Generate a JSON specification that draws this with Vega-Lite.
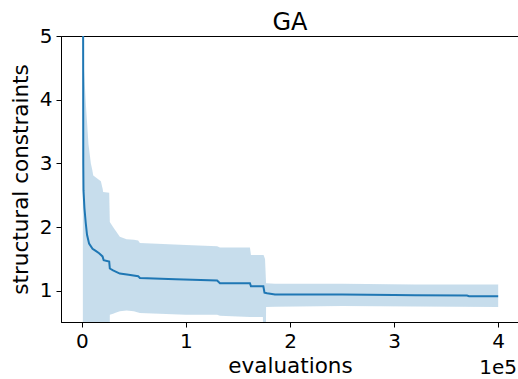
{
  "$schema": "https://vega.github.io/schema/vega-lite/v6.json",
  "width": 458,
  "height": 286,
  "autosize": {"type": "none"},
  "padding": {"left": 61, "top": 36, "right": 0, "bottom": 57},
  "background": "white",
  "config": {
    "font": "DejaVu Sans",
    "view": {"stroke": "black", "strokeWidth": 1},
    "axis": {"grid": false, "domainColor": "black", "tickColor": "black", "labelColor": "black", "titleColor": "black", "labelFontSize": 20, "titleFontSize": 21.5, "titleFontWeight": "normal", "tickSize": 5, "labelPadding": 4, "domainWidth": 1}
  },
  "title": {"text": "GA", "fontSize": 24, "fontWeight": "normal", "color": "black", "baseline": "alphabetic", "offset": -2, "dy": 26},
  "datasets": {
    "band": [
      {"x": 1000, "lo": -3, "hi": 9},
      {"x": 2000, "lo": -3, "hi": 4.5},
      {"x": 4000, "lo": -3, "hi": 3.9},
      {"x": 6400, "lo": -3, "hi": 3.3},
      {"x": 8700, "lo": -3, "hi": 3.0},
      {"x": 10000, "lo": -3, "hi": 2.9},
      {"x": 11000, "lo": -3, "hi": 2.81},
      {"x": 18300, "lo": -3, "hi": 2.72},
      {"x": 20000, "lo": -3, "hi": 2.6},
      {"x": 20500, "lo": -3, "hi": 2.55},
      {"x": 26300, "lo": -3, "hi": 2.54},
      {"x": 26900, "lo": 0.625, "hi": 2.08},
      {"x": 30000, "lo": 0.64, "hi": 2.0},
      {"x": 33000, "lo": 0.66, "hi": 1.93},
      {"x": 36500, "lo": 0.68, "hi": 1.85},
      {"x": 43000, "lo": 0.69, "hi": 1.81},
      {"x": 50000, "lo": 0.68, "hi": 1.8},
      {"x": 54100, "lo": 0.66, "hi": 1.79},
      {"x": 55800, "lo": 0.65, "hi": 1.75},
      {"x": 100000, "lo": 0.625, "hi": 1.72},
      {"x": 130000, "lo": 0.625, "hi": 1.7},
      {"x": 132700, "lo": 0.61, "hi": 1.68},
      {"x": 161500, "lo": 0.59, "hi": 1.68},
      {"x": 162500, "lo": 0.59, "hi": 1.56},
      {"x": 174000, "lo": 0.59, "hi": 1.56},
      {"x": 174600, "lo": -3, "hi": 1.56},
      {"x": 176000, "lo": -3, "hi": 1.5},
      {"x": 177000, "lo": 0.745, "hi": 1.12},
      {"x": 185600, "lo": 0.75, "hi": 1.11},
      {"x": 250000, "lo": 0.76, "hi": 1.11},
      {"x": 320000, "lo": 0.755, "hi": 1.1},
      {"x": 400000, "lo": 0.745, "hi": 1.1}
    ],
    "mean": [
      {"x": 1000, "y": 9},
      {"x": 1400, "y": 3.0},
      {"x": 1600, "y": 2.58},
      {"x": 2500, "y": 2.3},
      {"x": 3800, "y": 2.06},
      {"x": 5000, "y": 1.88},
      {"x": 7000, "y": 1.74},
      {"x": 10300, "y": 1.66},
      {"x": 13000, "y": 1.63},
      {"x": 16600, "y": 1.59},
      {"x": 19900, "y": 1.54},
      {"x": 21000, "y": 1.48},
      {"x": 26300, "y": 1.46},
      {"x": 26900, "y": 1.35},
      {"x": 30000, "y": 1.32},
      {"x": 36500, "y": 1.27},
      {"x": 45000, "y": 1.25},
      {"x": 54100, "y": 1.23},
      {"x": 55800, "y": 1.2},
      {"x": 90000, "y": 1.18},
      {"x": 130000, "y": 1.16},
      {"x": 132700, "y": 1.12},
      {"x": 161500, "y": 1.12},
      {"x": 162500, "y": 1.07},
      {"x": 174400, "y": 1.07},
      {"x": 175500, "y": 0.97},
      {"x": 178000, "y": 0.96},
      {"x": 185600, "y": 0.94},
      {"x": 250000, "y": 0.94},
      {"x": 300000, "y": 0.935},
      {"x": 320000, "y": 0.93},
      {"x": 370000, "y": 0.925},
      {"x": 372000, "y": 0.915},
      {"x": 400000, "y": 0.915}
    ],
    "offset": [{"x": 400000, "y": 0.51, "label": "1e5"}]
  },
  "layer": [
    {
      "data": {"name": "band"},
      "mark": {"type": "area", "color": "#1f77b4", "opacity": 0.25, "clip": true},
      "encoding": {
        "x": {"field": "x", "type": "quantitative", "scale": {"domain": [-20000, 420000], "nice": false, "zero": false},
          "axis": {"values": [0, 100000, 200000, 300000, 400000], "labelExpr": "format(datum.value/100000, 'd')", "title": "evaluations", "titlePadding": 4}},
        "y": {"field": "lo", "type": "quantitative", "scale": {"domain": [0.51, 5], "nice": false, "zero": false},
          "axis": {"values": [1, 2, 3, 4, 5], "format": "d", "title": "structural constraints", "titlePadding": 7}},
        "y2": {"field": "hi"}
      }
    },
    {
      "data": {"name": "mean"},
      "mark": {"type": "line", "color": "#1f77b4", "strokeWidth": 2, "clip": true},
      "encoding": {
        "x": {"field": "x", "type": "quantitative"},
        "y": {"field": "y", "type": "quantitative"}
      }
    },
    {
      "data": {"name": "offset"},
      "mark": {"type": "text", "fontSize": 20, "align": "center", "baseline": "alphabetic", "dy": 52, "color": "black", "clip": false},
      "encoding": {
        "x": {"field": "x", "type": "quantitative"},
        "y": {"field": "y", "type": "quantitative"},
        "text": {"field": "label"}
      }
    }
  ]
}
